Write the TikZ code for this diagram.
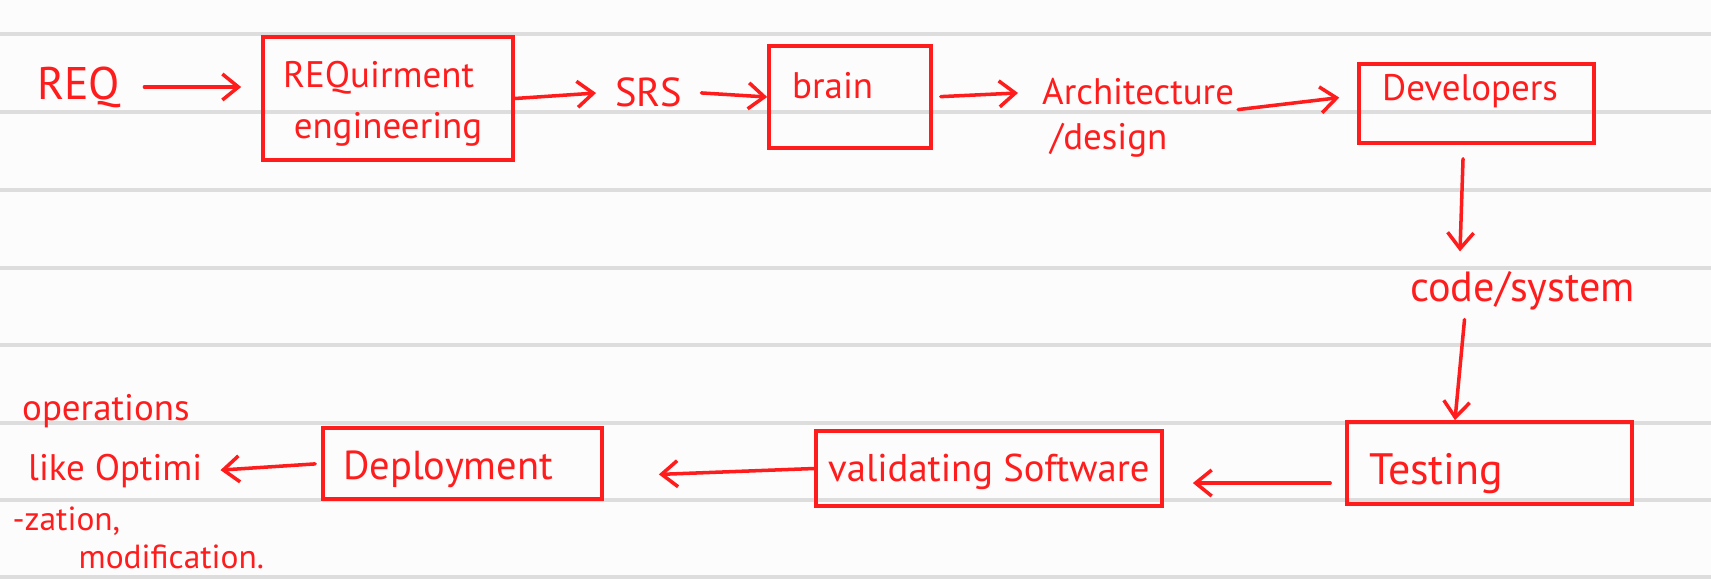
\documentclass[tikz,border=0pt]{standalone}
\usepackage{xcolor}
\usepackage{fontspec}
\setmainfont{PT Sans}
\usepackage{tikz}
\usetikzlibrary{arrows.meta}
\definecolor{ink}{RGB}{255,28,28}
\definecolor{ruling}{RGB}{221,221,221}
\definecolor{paper}{RGB}{252,252,252}
\newcommand{\hand}[1]{\fontsize{#1}{#1}\selectfont}

\begin{document}
\begin{tikzpicture}[x=0.01cm,y=-0.01cm,
  >={Straight Barb[length=1.6mm,width=2.6mm]},
  box/.style={draw=ink,line width=1pt,inner sep=0pt},
  txt/.style={text=ink,inner sep=1pt,anchor=west,font=\hand{10.5}},
  conn/.style={->,draw=ink,line width=1pt,line cap=round},
  rule/.style={draw=ruling,line width=0.9pt}]
% --- paper ---
\fill[paper] (0,0) rectangle (1711,578);
\useasboundingbox (0,0) rectangle (1711,578);
\foreach \y in {34,112,190,268,345,423,500,577}
  \draw[rule] (0,\y) -- (1711,\y);

% --- top row ---
\node[txt,font=\hand{13}] (req) at (33,87) {REQ};
\node[box,minimum width=2.50cm,minimum height=1.23cm] (reqbox) at (388,98.5) {};
\node[txt,align=left] (reqtxt) at (279,104) {REQuirment\\[4pt]\hspace{3pt}engineering};
\node[txt,font=\hand{11.5}] (srs) at (611,92) {SRS};
\node[box,minimum width=1.62cm,minimum height=1.02cm] (brainbox) at (850,97) {};
\node[txt] (brain) at (788,86) {brain};
\node[txt] (arch) at (1038,92) {Architecture};
\node[txt] (design) at (1046,140) {/design};
\node[box,minimum width=2.35cm,minimum height=0.79cm] (devbox) at (1476.5,103.5) {};
\node[txt] (dev) at (1378,91) {Developers};

\draw[conn,shorten <=0.2cm,shorten >=0.2cm] (req.east) -- (req.east -| reqbox.west);
\draw[conn,shorten >=0.15cm] (reqbox.east) -- (srs.west);
\draw[conn,shorten <=0.15cm] (srs.east) -- (brainbox.west);
\draw[conn,shorten <=0.08cm,shorten >=0.2cm] (brainbox.east) -- (arch.west);
\draw[conn,shorten >=0.18cm] (arch.south east) -- ([yshift=0.08cm]devbox.west);

% --- right column ---
\node[txt,font=\hand{12}] (code) at (1406,291) {code/system};
\draw[conn,shorten <=0.14cm,shorten >=0.16cm]
  ([xshift=-0.13cm]devbox.south) -- ([xshift=-0.17cm]devbox.south |- code.north);
\node[box,minimum width=2.85cm,minimum height=0.82cm] (testbox) at (1489.5,463) {};
\node[txt,font=\hand{12.5}] (test) at (1365,474) {Testing};
\draw[conn,shorten <=0.05cm]
  ([xshift=-0.245cm]testbox.north |- code.south) -- ([xshift=-0.345cm]testbox.north);

% --- bottom row ---
\node[box,minimum width=3.46cm,minimum height=0.75cm] (valbox) at (989,468.5) {};
\node[txt,font=\hand{11}] (val) at (824,472) {validating Software};
\node[box,minimum width=2.79cm,minimum height=0.71cm] (depbox) at (462.5,463.5) {};
\node[txt,font=\hand{11.5}] (dep) at (339,469) {Deployment};
\node[txt] (opsa) at (18,411) {operations};
\node[txt] (opsb) at (24,471) {like Optimi};
\node[txt,inner sep=0pt,font=\hand{9.5}] (opsc) at (12,521) {-zation,};
\node[txt,inner sep=0pt,font=\hand{9.5}] (opsd) at (78,557) {modification.};

\draw[conn,shorten <=0.15cm,shorten >=0.29cm]
  ([yshift=-0.2cm]testbox.west) -- ([yshift=-0.2cm]testbox.west -| valbox.east);
\draw[conn,shorten >=0.55cm] (valbox.west) -- ([yshift=-0.13cm]depbox.east);
\draw[conn,shorten <=0.06cm,shorten >=0.14cm] (depbox.west) -- (opsb.east);
\end{tikzpicture}
\end{document}
